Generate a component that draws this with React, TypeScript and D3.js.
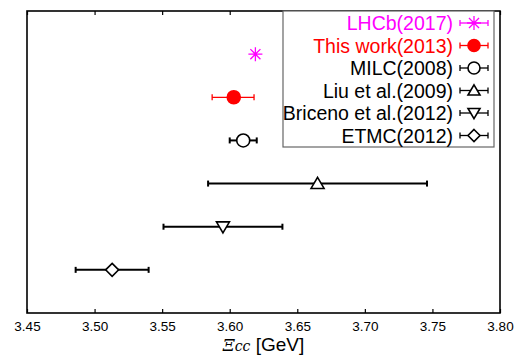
import { useEffect, useRef } from "react";
import * as d3 from "d3";

// values (GeV)
const labels = [
  "LHCb(2017)",
  "This work(2013)",
  "MILC(2008)",
  "Liu et al.(2009)",
  "Briceno et al.(2012)",
  "ETMC(2012)",
];
const masses = [3.619, 3.603, 3.61, 3.665, 3.595, 3.513];
const errLow = [0.0, 0.016, 0.01, 0.081, 0.044, 0.027];
const errHigh = [0.0, 0.015, 0.01, 0.081, 0.044, 0.027];
const colors = ["#ff00ff", "#ff0000", "#000", "#000", "#000", "#000"];
const markers = ["star", "dot", "circle", "up", "down", "diamond"];
const xTicks = [3.45, 3.5, 3.55, 3.6, 3.65, 3.7, 3.75, 3.8];

// marker path centred at 0,0 with half-size r
const markerPath = (kind, r) => {
  const p = d3.path();
  if (kind === "star") {
    const d = r * 0.72;
    p.moveTo(-r, 0); p.lineTo(r, 0);
    p.moveTo(0, -r); p.lineTo(0, r);
    p.moveTo(-d, -d); p.lineTo(d, d);
    p.moveTo(-d, d); p.lineTo(d, -d);
  } else if (kind === "dot" || kind === "circle") {
    p.arc(0, 0, r, 0, 2 * Math.PI);
  } else if (kind === "up") {
    p.moveTo(0, -r * 0.95); p.lineTo(r, r * 0.75); p.lineTo(-r, r * 0.75); p.closePath();
  } else if (kind === "down") {
    p.moveTo(0, r * 0.95); p.lineTo(r, -r * 0.75); p.lineTo(-r, -r * 0.75); p.closePath();
  } else {
    p.moveTo(0, -r); p.lineTo(r, 0); p.lineTo(0, r); p.lineTo(-r, 0); p.closePath();
  }
  return p.toString();
};

const App = () => {
  const ref = useRef(null);

  useEffect(() => {
    const width = 514;
    const height = 358;
    const margin = { top: 11, right: 14, bottom: 45, left: 27 };
    const font = "Liberation Sans, Arial, sans-serif";

    const svg = d3.select(ref.current).attr("width", width).attr("height", height);
    svg.selectAll("*").remove();

    const x = d3.scaleLinear().domain([3.45, 3.8]).range([margin.left, width - margin.right]);
    const y = d3
      .scalePoint()
      .domain(labels)
      .range([margin.top, height - margin.bottom])
      .padding(1);

    // frame
    svg
      .append("rect")
      .attr("x", margin.left)
      .attr("y", margin.top)
      .attr("width", x(3.8) - x(3.45))
      .attr("height", height - margin.bottom - margin.top)
      .attr("fill", "none")
      .attr("stroke", "#000")
      .attr("stroke-width", 1.6);

    // bottom axis, ticks pointing in
    const xAxis = svg
      .append("g")
      .attr("transform", `translate(0,${height - margin.bottom})`)
      .call(d3.axisBottom(x).tickValues(xTicks).tickSize(-4).tickPadding(8).tickFormat(d3.format(".2f")))
      .call((g) => g.select(".domain").remove());
    xAxis.selectAll(".tick line").attr("stroke-width", 1.2);
    xAxis.selectAll(".tick text").attr("font-family", font).attr("font-size", 13.5).attr("fill", "#000");

    // top ticks
    svg
      .append("g")
      .attr("transform", `translate(0,${margin.top})`)
      .call(d3.axisTop(x).tickValues(xTicks).tickSize(-4).tickFormat(() => ""))
      .call((g) => g.select(".domain").remove())
      .selectAll(".tick line")
      .attr("stroke-width", 1.2);

    // axis title
    const title = svg
      .append("text")
      .attr("x", (x(3.45) + x(3.8)) / 2)
      .attr("y", height - 7)
      .attr("text-anchor", "middle")
      .attr("font-family", font)
      .attr("font-size", 19)
      .attr("fill", "#000");
    title.append("tspan").attr("font-family", "DejaVu Serif, serif").attr("font-style", "italic").attr("font-size", 17).text("Ξ");
    title.append("tspan").attr("font-family", "DejaVu Serif, serif").attr("font-style", "italic").attr("font-size", 14).text("cc");
    title.append("tspan").text(" [GeV]");

    const drawEntry = (g, i, cx, cy, lo, hi, r, sw) => {
      const c = colors[i];
      if (hi > lo) {
        g.append("line").attr("x1", lo).attr("x2", hi).attr("y1", cy).attr("y2", cy)
          .attr("stroke", c).attr("stroke-width", sw);
        [lo, hi].forEach((px) =>
          g.append("line").attr("x1", px).attr("x2", px).attr("y1", cy - 3).attr("y2", cy + 3)
            .attr("stroke", c).attr("stroke-width", sw)
        );
      }
      const m = markers[i];
      g.append("path")
        .attr("transform", `translate(${cx},${cy})`)
        .attr("d", markerPath(m, r))
        .attr("fill", m === "dot" ? c : m === "star" ? "none" : "#fff")
        .attr("stroke", c)
        .attr("stroke-width", m === "star" ? 1.3 : 1.6);
    };

    // data points
    const pts = svg.append("g");
    labels.forEach((lab, i) => {
      drawEntry(
        pts, i, x(masses[i]), y(lab),
        x(masses[i] - errLow[i]), x(masses[i] + errHigh[i]),
        i === 0 ? 7 : 6.5, i === 1 ? 1.3 : 2
      );
    });

    // legend
    const leg = svg.append("g");
    leg
      .append("rect")
      .attr("x", 283)
      .attr("y", margin.top)
      .attr("width", 211)
      .attr("height", 136)
      .attr("fill", "#fff")
      .attr("stroke", "#666")
      .attr("stroke-width", 1.2);
    labels.forEach((lab, i) => {
      const cy = 23 + i * 22.5;
      leg
        .append("text")
        .attr("x", 453)
        .attr("y", cy)
        .attr("dy", "0.36em")
        .attr("text-anchor", "end")
        .attr("font-family", font)
        .attr("font-size", 19.5)
        .attr("fill", colors[i])
        .text(lab);
      drawEntry(leg, i, 474, cy, 460, 488, i === 0 ? 7 : 6, 1.3);
    });
  }, []);

  return <svg ref={ref} style={{ position: "absolute", left: 0, top: 0 }} />;
};

export default App;
